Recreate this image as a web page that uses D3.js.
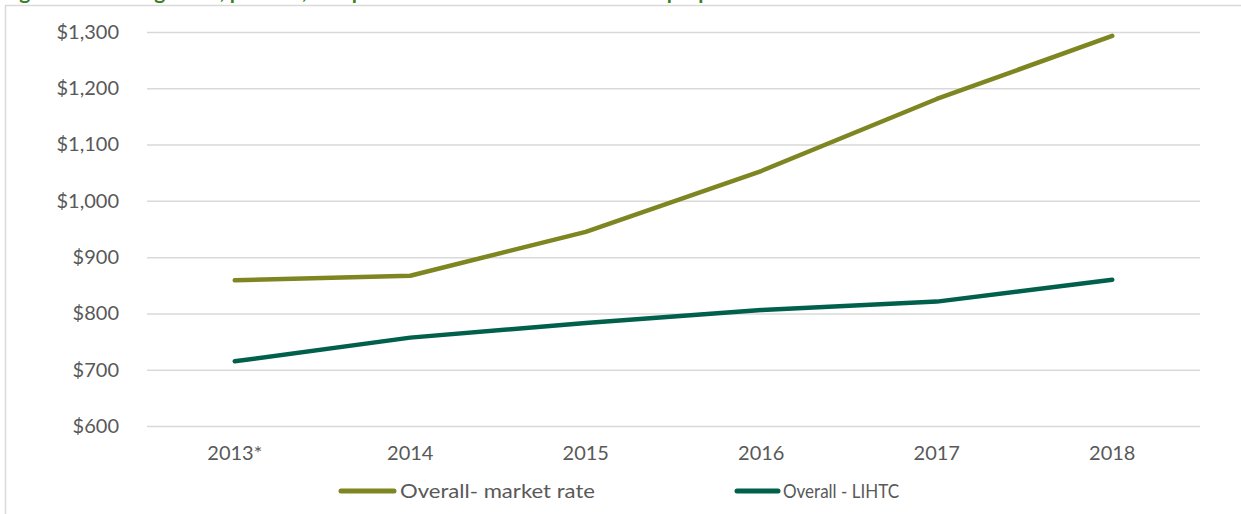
<!DOCTYPE html>
<html>
<head>
<meta charset="utf-8">
<script src="https://cdn.jsdelivr.net/npm/d3@7"></script>
<style>
  body { margin: 0; background: #fff; overflow: hidden; }
  svg { display: block; }
  text { font-family: Lato, "Open Sans", sans-serif; }
</style>
</head>
<body>
<div id="viz"></div>
<script>
var width = 1241;
var height = 514;

// data
var years = ['2013*', '2014', '2015', '2016', '2017', '2018'];
var marketRate = [859, 867, 945, 1053, 1181, 1293];
var lihtc = [715, 757, 783, 806, 821, 860];
var yTicks = [600, 700, 800, 900, 1000, 1100, 1200, 1300];
var seriesNames = ['Overall- market rate', 'Overall - LIHTC'];

var colors = ['#7e8621', '#00604c'];

var svg = d3.select('#viz').append('svg')
  .attr('width', width)
  .attr('height', height);

// title, cut off at the top edge as in the source
svg.append('text')
  .attr('x', 2)
  .attr('y', -1)
  .style('font-size', '21px')
  .style('font-weight', 'bold')
  .style('fill', '#3a7f26')
  .text('Figure 11: Average rent, per unit, comparison of market rate and LIHTC properties');

// outer chart border
svg.append('rect')
  .attr('x', 5.5)
  .attr('y', 5.5)
  .attr('width', width + 20)
  .attr('height', height + 20)
  .style('fill', 'none')
  .style('stroke', '#d9d9d9')
  .style('stroke-width', 1.5);

var x = d3.scaleBand()
  .domain(years)
  .range([147, 1200]);

var y = d3.scaleLinear()
  .domain([600, 1300])
  .range([426, 32]);

// gridlines + y labels
var yAxis = d3.axisLeft(y)
  .tickValues(yTicks)
  .tickSize(-(1200 - 147))
  .tickPadding(28)
  .tickFormat(function (d) { return '$' + d3.format(',')(d); });

var gy = svg.append('g')
  .attr('transform', 'translate(147,0)')
  .call(yAxis);

gy.select('.domain').remove();
gy.selectAll('.tick line')
  .style('stroke', '#d9d9d9')
  .style('stroke-width', 1.5);
gy.selectAll('.tick text')
  .style('font-size', '20px')
  .style('fill', '#595959');

// x labels
var xAxis = d3.axisBottom(x)
  .tickSize(0)
  .tickPadding(20);

var gx = svg.append('g')
  .attr('transform', 'translate(0,426)')
  .call(xAxis);

gx.select('.domain').remove();
gx.selectAll('.tick text')
  .style('font-size', '20px')
  .style('fill', '#595959');

var line = d3.line()
  .x(function (d, i) { return x(years[i]) + x.bandwidth() / 2; })
  .y(function (d) { return y(d); });

[marketRate, lihtc].forEach(function (series, i) {
  svg.append('path')
    .datum(series)
    .attr('d', line)
    .style('fill', 'none')
    .style('stroke', colors[i])
    .style('stroke-width', 4.5)
    .style('stroke-linejoin', 'round')
    .style('stroke-linecap', 'round');
});

// legend
var legend = [
  { name: seriesNames[0], x1: 341, x2: 394, tx: 400, tw: 195 },
  { name: seriesNames[1], x1: 737, x2: 778, tx: 783, tw: 116 }
];

var lg = svg.selectAll('.legend')
  .data(legend).enter()
  .append('g')
  .attr('class', 'legend');

lg.append('line')
  .attr('x1', function (d) { return d.x1; })
  .attr('x2', function (d) { return d.x2; })
  .attr('y1', 491)
  .attr('y2', 491)
  .style('stroke', function (d, i) { return colors[i]; })
  .style('stroke-width', 5)
  .style('stroke-linecap', 'round');

lg.append('text')
  .attr('x', function (d) { return d.tx; })
  .attr('y', 498)
  .attr('textLength', function (d) { return d.tw; })
  .attr('lengthAdjust', 'spacingAndGlyphs')
  .style('font-size', '20px')
  .style('fill', '#595959')
  .text(function (d) { return d.name; });
</script>
</body>
</html>
